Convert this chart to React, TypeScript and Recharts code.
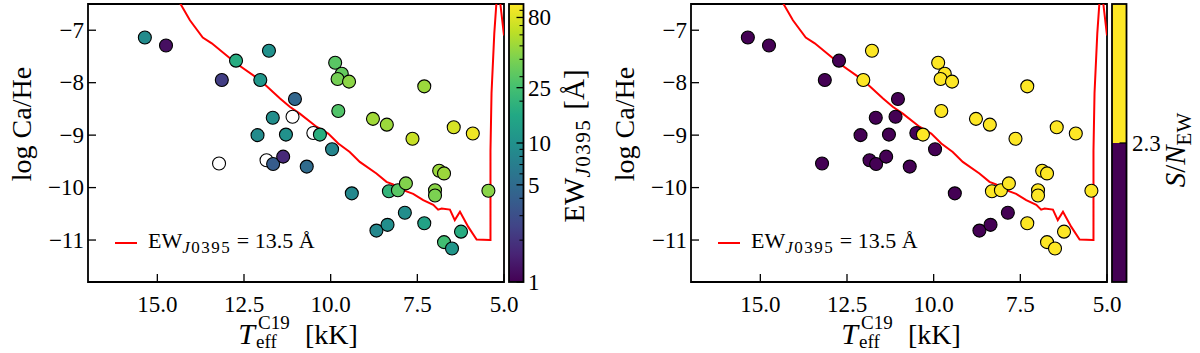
import React from 'react';
import { ComposedChart, Scatter, Line, XAxis, YAxis, ReferenceArea, Legend } from 'recharts';

// stars: Teff (kK), log Ca/He, EW of J0395 (Å, null = not measured), S/N of that EW
const teff = [15.36, 14.75, 12.73, 11.78, 13.14, 12.03, 11.03, 11.1, 11.67, 12.11, 11.29, 10.5, 10.31, 13.22, 11.85, 11.66, 11.37, 10.69, 9.96, 9.87, 9.68, 9.8, 9.47, 7.3, 9.78, 8.78, 8.38, 7.64, 6.45, 5.9, 6.87, 6.73, 9.39, 8.32, 8.06, 7.83, 6.99, 6.99, 5.45, 7.86, 7.3, 8.68, 8.36, 6.24, 6.73, 6.5];
const logCaHe = [-7.14, -7.29, -7.58, -7.39, -7.95, -7.95, -8.31, -8.65, -8.67, -9.0, -8.99, -8.96, -8.99, -9.54, -9.48, -9.55, -9.41, -9.6, -9.27, -7.62, -7.83, -7.93, -7.98, -8.07, -8.54, -8.69, -8.8, -9.07, -8.85, -8.97, -9.68, -9.73, -10.11, -10.07, -10.05, -9.92, -10.05, -10.15, -10.06, -10.48, -10.68, -10.82, -10.71, -10.84, -11.04, -11.16];
const ewJ0395 = [9, 1.2, 17, 10, 2.3, 11, 4.5, null, 9.5, 9, 10, null, 18, null, null, 3.8, 1.7, 5, 8, 30, 33, 38, 45, 50, 28, 52, 50, 68, 76, 90, 50, 50, 8.5, 20, 30, 42, 44, 40, 44, 9.5, 14, 8.5, 9.5, 17, 24, 11];
const snrEW = [1.8, 0.3, 1.9, 3.1, 0.6, 3.4, 1.2, 0.4, 1.7, 1.6, 1.9, 0.5, 2.9, 0.2, 0.3, 1.0, 0.5, 1.3, 2.0, 6.5, 7.0, 7.8, 8.4, 9.1, 5.2, 9.5, 8.8, 11.2, 12.5, 13.8, 8.9, 9.2, 2.1, 4.1, 5.8, 7.2, 7.5, 6.9, 7.7, 2.2, 3.3, 1.9, 2.0, 3.8, 4.6, 2.6];

// model curve, EW_J0395 = 13.5 Å
const modelTeff = [14.5, 14.33, 14.06, 13.69, 13.43, 12.73, 12.04, 11.46, 11.18, 10.89, 10.41, 10.07, 9.78, 9.45, 9.16, 8.68, 8.39, 8.2, 7.91, 7.62, 7.33, 7.04, 6.9, 6.8, 6.56, 6.42, 6.27, 6.03, 5.79, 5.41, 5.39, 5.39, 5.36, 5.28, 5.2, 5.14, 5.0];
const modelLogCaHe = [-6.3, -6.5, -6.81, -7.14, -7.25, -7.63, -7.95, -8.3, -8.46, -8.59, -8.84, -8.97, -9.16, -9.32, -9.51, -9.73, -9.89, -9.94, -10.05, -10.12, -10.24, -10.33, -10.42, -10.4, -10.42, -10.62, -10.46, -10.75, -10.99, -11.0, -11.0, -9.3, -8.2, -7.06, -6.3, -6.3, -7.1];

const teffTicks = [15, 12.5, 10, 7.5, 5];
const logTicks = [-11, -10, -9, -8, -7];
const ewTicks = [1, 5, 10, 25, 80];
const ewMinorTicks = [2, 3, 4, 6, 7, 8, 9, 20, 30, 40, 50, 60, 70, 90];
const snrCut = 2.3;

const SERIF = "'Liberation Serif', 'DejaVu Serif', serif";
const RED = '#ff0000';
const W = 600;
const H = 353;
const PLOT_TOP = 4;
const PLOT_BOTTOM = 282;
const BAR_X = 509;
const BAR_W = 14.5;

const VIRIDIS = ['#440154', '#482475', '#414487', '#355f8d', '#2a788e', '#21918c', '#22a884', '#44bf70', '#7ad151', '#bddf26', '#fde725'];

function hexToRgb(h: string) {
	const n = parseInt(h.slice(1), 16);
	return [n >> 16, (n >> 8) & 255, n & 255];
}

function viridis(t: number) {
	const u = Math.max(0, Math.min(1, t)) * 10;
	const i = Math.min(9, Math.floor(u));
	const f = u - i;
	const a = hexToRgb(VIRIDIS[i]);
	const b = hexToRgb(VIRIDIS[i + 1]);
	return `rgb(${a.map((v, k) => Math.round(v + (b[k] - v) * f)).join(',')})`;
}

const stars = teff.map((x, i) => ({ x, y: logCaHe[i], ew: ewJ0395[i], snr: snrEW[i] }));
const model = modelTeff.map((x, i) => ({ x, y: modelLogCaHe[i] }));

const ewColor = (p: any) => (p.ew == null ? '#ffffff' : viridis(Math.log10(p.ew) / 2));
const snrColor = (p: any) => (p.snr >= snrCut ? VIRIDIS[10] : VIRIDIS[0]);

const XTick = (props: any) => {
	const { x, y, payload } = props;
	return (
		<g>
			<line x1={x} x2={x} y1={y} y2={y - 8} stroke="#000" strokeWidth={1.3} />
			<text x={x} y={y + 30} textAnchor="middle" fontFamily={SERIF} fontSize={23} fill="#000">
				{Number(payload.value).toFixed(1)}
			</text>
		</g>
	);
};

const YTick = (props: any) => {
	const { x, y, payload } = props;
	return (
		<g>
			<line x1={x} x2={x + 8} y1={y} y2={y} stroke="#000" strokeWidth={1.3} />
			<text x={x - 4} y={y} dy="0.34em" textAnchor="end" fontFamily={SERIF} fontSize={23} fill="#000">
				{'\u2212' + Math.abs(payload.value)}
			</text>
		</g>
	);
};

// T_eff^C19 [kK], sub/superscript stacked after the T
const XLabel = (props: any) => {
	const vb = props.viewBox || {};
	const cx = (vb.x ?? 88) + (vb.width ?? 416) / 2;
	return (
		<g fontFamily={SERIF} fill="#000">
			<text x={cx - 41} y={344} textAnchor="end" fontSize={30} fontStyle="italic">T</text>
			<text x={cx - 40} y={348} fontSize={19}>eff</text>
			<text x={cx - 38} y={329} fontSize={19}>C19</text>
			<text x={cx + 9} y={344} fontSize={28}>[kK]</text>
		</g>
	);
};

const YLabel = () => {
	const cy = 124;
	const x = 31;
	return (
		<text x={x} y={cy} transform={`rotate(-90 ${x} ${cy})`} textAnchor="middle" fontFamily={SERIF} fontSize={28} fill="#000">
			log Ca/He
		</text>
	);
};

const LineKey = () => (
	<div style={{ display: 'flex', alignItems: 'center', height: 24, fontFamily: SERIF, fontSize: 22, color: '#000', whiteSpace: 'nowrap' }}>
		<span style={{ display: 'inline-block', width: 22, height: 2, background: RED, marginRight: 11 }} />
		<span>
			EW<sub style={{ fontSize: 17, verticalAlign: '-5px', letterSpacing: 1.5 }}><i>J</i>0395</sub> = 13.5 Å
		</span>
	</div>
);

const ewBarY = (v: number) => PLOT_BOTTOM - (Math.log10(v) / 2) * (PLOT_BOTTOM - PLOT_TOP);

const EwBar = () => (
	<svg width={W} height={H} style={{ position: 'absolute', left: 0, top: 0, pointerEvents: 'none' }}>
		<defs>
			<linearGradient id="viridisBar" x1="0" y1="1" x2="0" y2="0">
				{VIRIDIS.map((c, i) => (
					<stop key={c} offset={`${i * 10}%`} stopColor={c} />
				))}
			</linearGradient>
		</defs>
		<rect x={BAR_X} y={PLOT_TOP} width={BAR_W} height={PLOT_BOTTOM - PLOT_TOP} fill="url(#viridisBar)" stroke="#000" strokeWidth={1.8} />
		{ewMinorTicks.map((v) => (
			<line key={v} x1={BAR_X + BAR_W} x2={BAR_X + BAR_W - 4} y1={ewBarY(v)} y2={ewBarY(v)} stroke="#000" strokeWidth={1.1} />
		))}
		{ewTicks.map((v) => (
			<g key={v}>
				<line x1={BAR_X + BAR_W} x2={BAR_X + BAR_W - 7} y1={ewBarY(v)} y2={ewBarY(v)} stroke="#000" strokeWidth={1.3} />
				<text x={528} y={ewBarY(v)} dy="0.34em" fontFamily={SERIF} fontSize={23} fill="#000">
					{v}
				</text>
			</g>
		))}
		<text x={584} y={146} transform="rotate(-90 584 146)" textAnchor="middle" fontFamily={SERIF} fontSize={29} fill="#000">
			EW
			<tspan fontSize={21} dy={6} letterSpacing={1.5}>
				<tspan fontStyle="italic">J</tspan>0395
			</tspan>
			<tspan dx={9} dy={-6}>[Å]</tspan>
		</text>
	</svg>
);

const SnrBar = () => {
	const cutY = (PLOT_TOP + PLOT_BOTTOM) / 2;
	return (
		<svg width={W} height={H} style={{ position: 'absolute', left: 0, top: 0, pointerEvents: 'none' }}>
			<rect x={BAR_X} y={PLOT_TOP} width={BAR_W} height={cutY - PLOT_TOP} fill={VIRIDIS[10]} />
			<rect x={BAR_X} y={cutY} width={BAR_W} height={PLOT_BOTTOM - cutY} fill={VIRIDIS[0]} />
			<rect x={BAR_X} y={PLOT_TOP} width={BAR_W} height={PLOT_BOTTOM - PLOT_TOP} fill="none" stroke="#000" strokeWidth={1.8} />
			<line x1={BAR_X + BAR_W} x2={BAR_X + BAR_W - 7} y1={cutY} y2={cutY} stroke="#000" strokeWidth={1.3} />
			<text x={529} y={cutY} dy="0.34em" fontFamily={SERIF} fontSize={23} fill="#000">
				{snrCut}
			</text>
			<text x={582} y={150} transform="rotate(-90 582 150)" textAnchor="middle" fontFamily={SERIF} fontSize={29} fill="#000">
				<tspan fontStyle="italic">S</tspan>/<tspan fontStyle="italic">N</tspan>
				<tspan fontSize={21} dy={6}>EW</tspan>
			</text>
		</svg>
	);
};

function Panel({ colorOf, left, bar }: { colorOf: (p: any) => string; left: number; bar: React.ReactNode }) {
	return (
		<div style={{ position: 'absolute', left, top: 0, width: W, height: H }}>
			<ComposedChart width={W} height={H} margin={{ top: PLOT_TOP, right: 96, bottom: 0, left: 28 }}>
				<XAxis
					type="number"
					dataKey="x"
					domain={[5, 17]}
					reversed
					allowDataOverflow
					ticks={teffTicks}
					interval={0}
					tickSize={0}
					tickMargin={0}
					tick={<XTick />}
					axisLine={false}
					height={71}
					label={{ content: XLabel }}
				/>
				<YAxis
					type="number"
					dataKey="y"
					domain={[-11.8, -6.5]}
					allowDataOverflow
					ticks={logTicks}
					interval={0}
					tickSize={0}
					tickMargin={0}
					tick={<YTick />}
					axisLine={false}
					width={60}
					label={{ content: YLabel }}
				/>
				<Line data={model} dataKey="y" type="linear" stroke={RED} strokeWidth={2} dot={false} activeDot={false} isAnimationActive={false} />
				<Scatter
					data={stars}
					isAnimationActive={false}
					shape={(p: any) => (
						<circle cx={p.cx} cy={p.cy} r={6.5} fill={colorOf(p.payload ?? p)} stroke="#000" strokeWidth={1.1} />
					)}
				/>
				<ReferenceArea x1={17} x2={5} y1={-11.8} y2={-6.5} fill="none" stroke="#000" strokeWidth={1.8} ifOverflow="visible" />
				<Legend
					layout="vertical"
					align="center"
					verticalAlign="middle"
					content={<LineKey />}
					wrapperStyle={{ left: 115, top: 231, width: 'auto', height: 'auto' }}
				/>
			</ComposedChart>
			{bar}
		</div>
	);
}

export default function App() {
	return (
		<div style={{ position: 'absolute', left: 0, top: 0, width: 1200, height: H, background: '#fff' }}>
			<Panel colorOf={ewColor} left={0} bar={<EwBar />} />
			<Panel colorOf={snrColor} left={603} bar={<SnrBar />} />
		</div>
	);
}
